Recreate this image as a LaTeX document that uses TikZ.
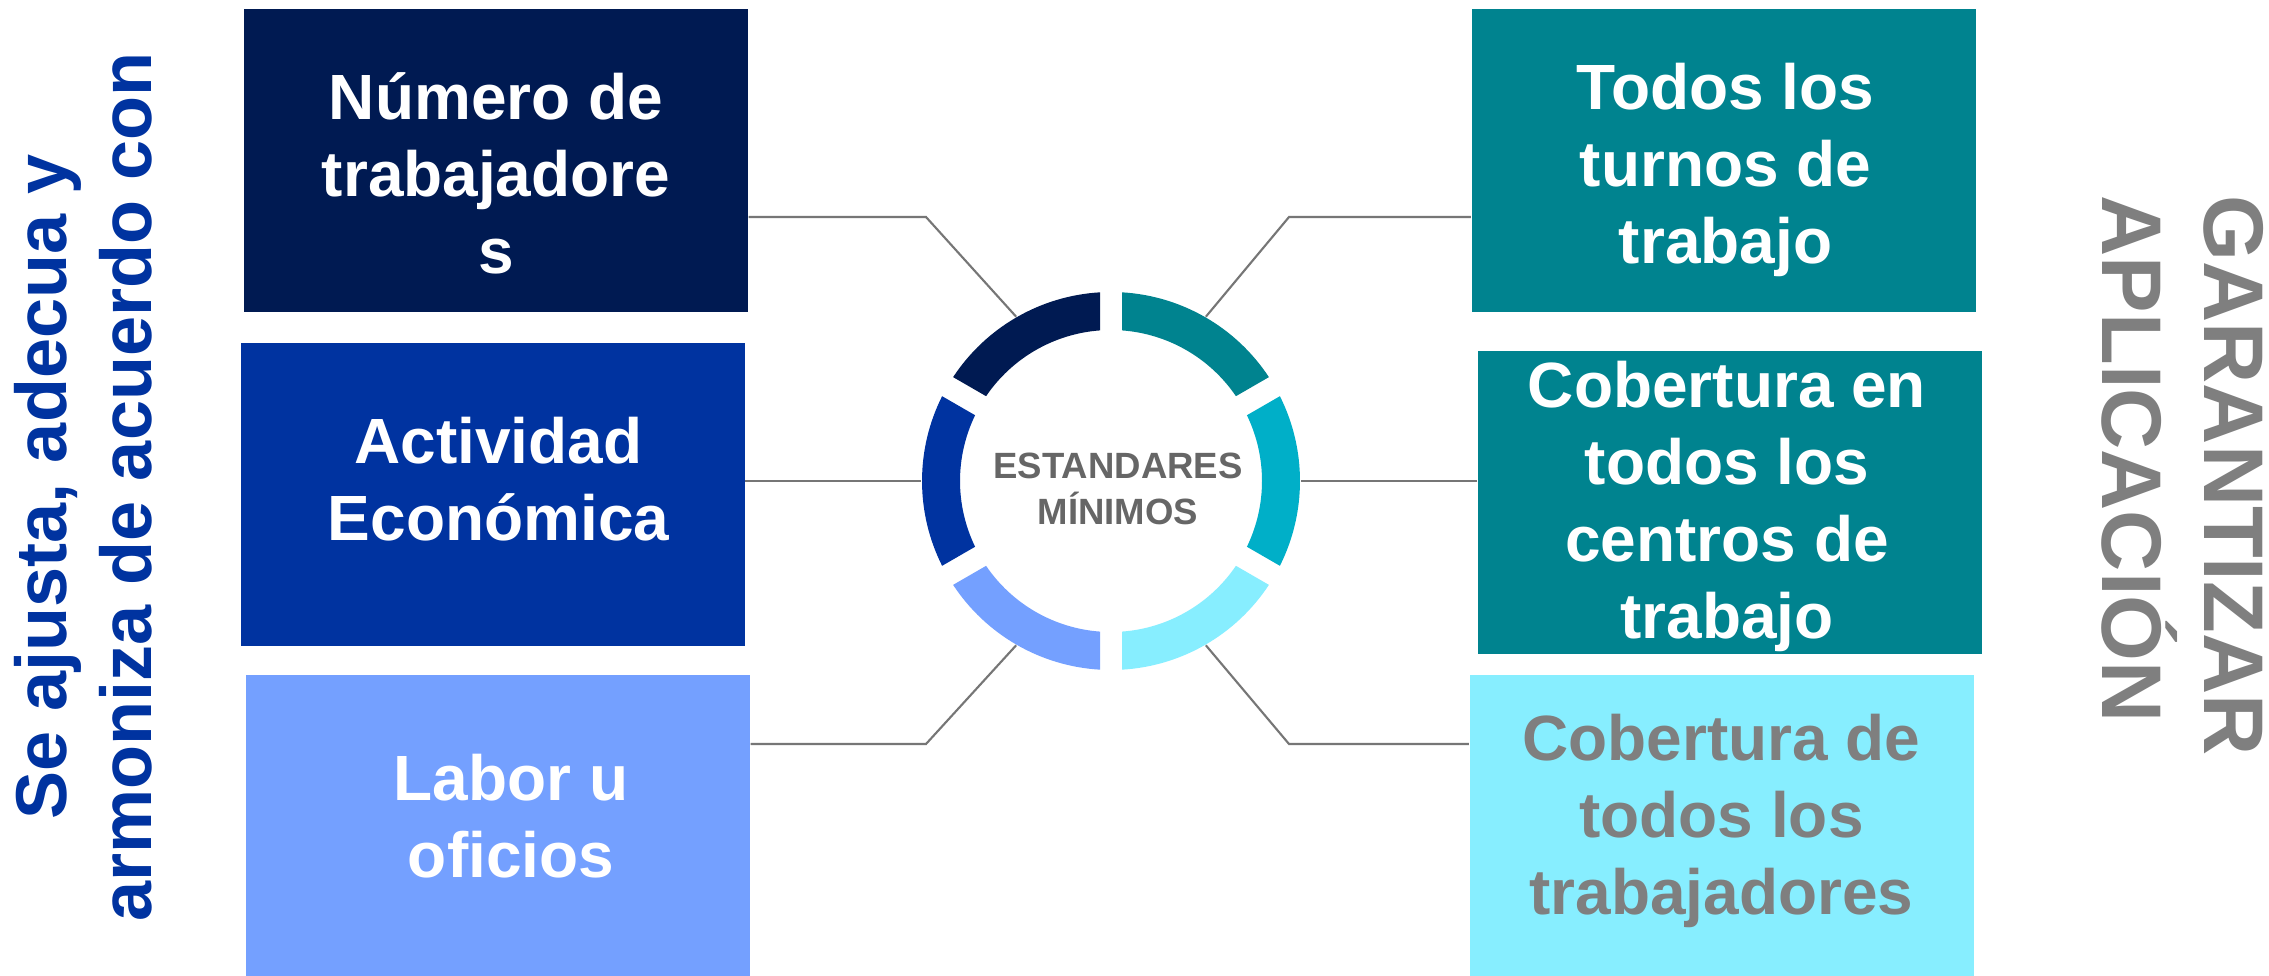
\documentclass[tikz,border=0pt]{standalone}
\usepackage{fontspec}
\setmainfont{Liberation Sans}
\usetikzlibrary{calc}
\definecolor{emnavy}{HTML}{001A52}
\definecolor{emblue}{HTML}{0033A0}
\definecolor{emsky}{HTML}{74A0FF}
\definecolor{emteal}{HTML}{00838F}
\definecolor{emcyan}{HTML}{00AFC8}
\definecolor{empale}{HTML}{87EEFF}
\definecolor{emgray}{HTML}{7F7F7F}
\definecolor{emdark}{HTML}{666666}
\definecolor{emline}{HTML}{767676}

\begin{document}
\begin{tikzpicture}[
    box/.style={rectangle, minimum width=5.04cm, minimum height=3.03cm, inner sep=0pt},
    boxtext/.style={inner sep=0pt, align=center, text=white, font=\bfseries\fontsize{18.2}{21.9}\selectfont},
    link/.style={draw=emline, line width=0.6pt},
    side/.style={inner sep=0pt, font=\bfseries\fontsize{20.5}{24.2}\selectfont}
]
    \useasboundingbox (0,0) rectangle (22.69,9.75);
    \fill[white] (0,0) rectangle (22.69,9.75);

    % Left boxes
    \node[box, fill=emnavy] (num) at (4.96,8.145) {};
    \node[box, fill=emblue] (act) at (4.925,4.805) {};
    \node[box, fill=emsky] (lab) at (4.98,1.485) {};
    \node[boxtext] (numt) at ($(num)+(0,-0.13)$) {Número de\\trabajadore\\s};
    \node[boxtext] (actt) at ($(act)+(0.06,0.15)$) {Actividad\\Económica};
    \node[boxtext] (labt) at ($(lab)+(0.13,0.10)$) {Labor u\\oficios};

    % Right boxes
    \node[box, fill=emteal] (tur) at (17.235,8.145) {};
    \node[box, fill=emteal] (cen) at (17.30,4.725) {};
    \node[box, fill=empale] (cob) at (17.215,1.485) {};
    \node[boxtext] (turt) at ($(tur)+(0.02,-0.09)$) {Todos los\\turnos de\\trabajo};
    \node[boxtext] (cent) at ($(cen)+(-0.03,-0.04)$) {Cobertura en\\todos los\\centros de\\trabajo};
    \node[boxtext, text=emgray] (cobt) at ($(cob)+(0,0.06)$) {Cobertura de\\todos los\\trabajadores};

    % Hub
    \node[circle, minimum size=3.78cm, inner sep=0pt] (ring) at (11.11,4.94) {};
    \coordinate (kNW) at (9.26,7.58);
    \coordinate (kNE) at (12.89,7.58);
    \coordinate (kSW) at (9.26,2.31);
    \coordinate (kSE) at (12.89,2.31);

    % Connectors
    \draw[link] (num.east |- kNW) -- (kNW) -- (ring.120);
    \draw[link] (act.east |- ring.west) -- (ring.west);
    \draw[link] (lab.east |- kSW) -- (kSW) -- (ring.240);
    \draw[link] (tur.west |- kNE) -- (kNE) -- (ring.60);
    \draw[link] (cen.west |- ring.east) -- (ring.east);
    \draw[link] (cob.west |- kSE) -- (kSE) -- (ring.300);

    % Ring segments
    \foreach \a/\c in {90/emnavy,150/emblue,210/emsky,270/empale,330/emcyan,30/emteal}
        \fill[\c, shift={(ring.center)}] ({\a+3.34}:1.89) arc[start angle={\a+3.34}, end angle={\a+56.66}, radius=1.89]
            -- ({\a+55.82}:1.51) arc[start angle={\a+55.82}, end angle={\a+4.18}, radius=1.51] -- cycle;

    \node[inner sep=0pt, align=center, text=emdark, font=\bfseries\fontsize{10.4}{13.1}\selectfont] (hub) at (11.18,4.86) {ESTANDARES\\MÍNIMOS};

    % Side titles
    \node[side, text=emblue, rotate=90, align=center] (adj) at (0.83,4.88) {Se ajusta, adecua y\\armoniza de acuerdo con};
    \node[inner sep=0pt, rotate=-90, anchor=west, align=left, text=emgray, font=\bfseries\fontsize{24.1}{29}\selectfont] (gar) at (21.83,7.80) {GARANTIZAR\\APLICACIÓN};
\end{tikzpicture}
\end{document}
